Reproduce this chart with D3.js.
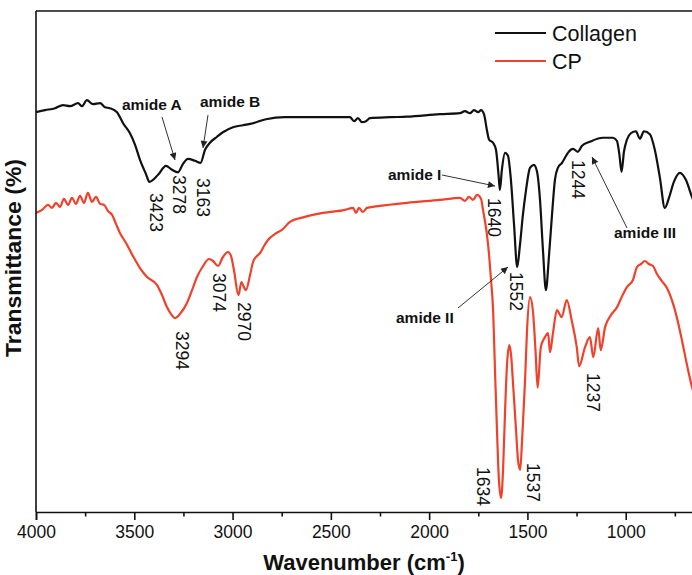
<!DOCTYPE html>
<html>
<head>
<meta charset="utf-8">
<script src="https://cdn.jsdelivr.net/npm/d3@7/dist/d3.min.js"></script>
<style>
  html, body { margin: 0; padding: 0; background: #fff; }
  svg { display: block; }
  text { font-family: "Liberation Sans", Arial, Helvetica, sans-serif; fill: #111; }
</style>
</head>
<body>
<svg id="chart" width="692" height="575"></svg>
<script>
// ---------------- DATA ----------------
const seriesNames = ["Collagen", "CP"];

const collagenWn = [4000,3954,3903,3863,3827,3786,3766,3741,3710,3674,3649,3624,3588,3557,3522,3496,3471,3440,3423,3379,3339,3308,3278,3252,3227,3191,3163,3140,3115,3079,3049,2998,2947,2896,2830,2733,2621,2504,2403,2382,2362,2342,2321,2301,2199,2113,1945,1843,1818,1792,1772,1751,1736,1721,1706,1695,1675,1660,1647,1640,1630,1614,1599,1584,1568,1552,1538,1523,1507,1487,1467,1451,1436,1421,1406,1390,1375,1360,1345,1324,1309,1294,1268,1244,1222,1182,1116,1065,1045,1032,1021,1009,994,974,948,928,907,877,852,826,801,780,755,724,694,663,622];
const collagenT  = [79.8,80.2,80.6,81.2,81.0,81.6,81.0,82.2,81.4,81.6,80.8,80.6,79.8,77.6,75.6,73.3,70.3,67.4,65.9,67.3,69.1,68.3,67.8,69.5,70.5,70.1,69.7,72.3,73.7,74.9,75.8,76.8,77.2,77.6,78.4,78.8,78.8,78.8,78.8,78.0,78.6,77.8,78.0,78.6,78.8,78.9,79.4,79.6,80.0,79.6,80.2,79.8,80.2,79.4,76.2,74.3,73.7,72.3,67.3,64.3,68.3,71.7,71.1,66.3,57.3,48.9,53.3,59.3,64.3,68.7,69.3,67.9,62.3,52.3,44.3,51.3,59.3,66.3,68.7,69.7,70.7,71.7,72.5,71.9,73.1,73.9,74.7,74.7,74.1,71.3,67.9,71.9,74.3,75.6,76.0,74.5,76.0,75.4,72.3,66.7,60.7,62.7,65.9,67.7,66.3,62.9,59.3];

const cpWn = [4000,3969,3939,3919,3898,3878,3858,3837,3817,3797,3776,3756,3736,3715,3695,3674,3654,3634,3613,3593,3573,3542,3507,3471,3435,3384,3359,3334,3313,3294,3268,3232,3206,3181,3150,3120,3099,3074,3049,3023,3008,2993,2970,2955,2947,2932,2911,2896,2876,2860,2840,2820,2784,2749,2708,2632,2540,2428,2387,2372,2357,2337,2316,2250,2113,1945,1843,1818,1797,1777,1756,1736,1726,1707,1695,1685,1674,1665,1655,1645,1634,1624,1614,1604,1592,1583,1572,1558,1548,1537,1527,1512,1502,1487,1471,1459,1448,1432,1411,1395,1385,1370,1350,1326,1300,1275,1249,1237,1207,1182,1165,1140,1127,1105,1075,1044,1018,994,963,943,922,902,882,861,841,816,790,765,739,714,689,663,622];
const cpT  = [59.7,60.3,61.3,60.7,61.7,60.9,62.5,61.3,62.7,61.5,63.1,61.7,63.7,61.9,62.9,61.5,61.3,60.1,59.3,57.5,55.7,53.7,51.1,48.7,46.9,45.3,43.3,40.9,39.5,38.7,39.5,41.7,44.3,46.9,49.1,50.5,50.1,49.1,50.9,51.9,51.1,48.3,43.3,45.9,45.3,44.3,47.3,49.9,51.1,51.7,53.1,54.3,55.5,56.3,57.9,58.9,59.7,60.3,60.7,59.7,60.7,59.9,60.7,61.1,61.7,62.3,62.7,62.1,62.9,62.3,63.3,62.5,60.3,55.7,51.3,46.3,39.7,28.3,16.4,6.4,2.8,8.4,19.8,29.3,33.3,31.3,24.9,16.4,10.4,8.4,14.4,26.3,36.3,42.9,39.7,32.3,24.8,32.9,34.9,35.7,31.9,35.7,40.3,38.9,42.3,38.3,32.9,29.1,32.9,34.9,30.9,36.7,32.3,36.9,39.3,40.9,43.1,44.9,46.3,48.9,49.5,50.1,49.5,49.1,47.5,46.1,44.7,42.3,38.7,34.3,29.5,25.0,20.4];

const xMajorTicks = [4000,3500,3000,2500,2000,1500,1000];
const xMinorTicks = [3750,3250,2750,2250,1750,1250,750];

const peakLabels = ["3423","3278","3163","3294","3074","2970","1640","1552","1244","1634","1537","1237"];
const peakSeries = ["Collagen","Collagen","Collagen","CP","CP","CP","Collagen","Collagen","Collagen","CP","CP","CP"];
const bandNames = ["amide A","amide B","amide I","amide II","amide III"];

// ---------------- LAYOUT ----------------
const W = 692, H = 575;
const plot = { left: 36, top: 11, bottom: 512 };
const xDomain = [4000, 600];
const pxPerUnit = 0.19657;
const x = d3.scaleLinear().domain(xDomain).range([plot.left, plot.left + (xDomain[0]-xDomain[1])*pxPerUnit]);
const y = d3.scaleLinear().domain([0, 100]).range([plot.bottom, plot.top]);
const colors = { "Collagen": "#111111", "CP": "#f0412b" };
const fontFam = '"Liberation Sans", Arial, Helvetica, sans-serif';

// positions of hand-placed annotation text (pixel layout)
const peakPos = [[150,193],[173,175],[197,178],[176,331],[213,273],[238,302],[488,198],[510,272],[572,160],[477,467],[527,463],[587,373]];
const bandTextPos = [[122,110],[200,107],[388,180],[396,323],[614,238]];
const bandArrows = [[[162,117],[175,160]],[[208,115],[203,148]],[[442,175],[495,186]],[[458,308],[508,267]],[[627,228],[592,157]]];

const svg = d3.select("#chart");

svg.append("defs").append("marker")
  .attr("id","arrowhead").attr("viewBox","0 0 10 10")
  .attr("refX",10).attr("refY",5)
  .attr("markerWidth",9).attr("markerHeight",7)
  .attr("markerUnits","userSpaceOnUse")
  .attr("orient","auto")
  .append("path").attr("d","M0,0 L10,5 L0,10 Z").attr("fill","#222");

svg.append("clipPath").attr("id","clip").append("rect")
  .attr("x",plot.left).attr("y",plot.top)
  .attr("width",x.range()[1]-plot.left).attr("height",plot.bottom-plot.top);

// series lines
const line = d3.line().x(d => x(d[0])).y(d => y(d[1])).curve(d3.curveMonotoneX);
const series = [
  { name: "Collagen", pts: d3.zip(collagenWn, collagenT) },
  { name: "CP", pts: d3.zip(cpWn, cpT) }
];
svg.append("g").attr("clip-path","url(#clip)")
  .selectAll("path").data(series).join("path")
  .attr("d", d => line(d.pts))
  .attr("fill","none")
  .attr("stroke", d => colors[d.name])
  .attr("stroke-width", 2.2)
  .attr("stroke-linejoin","round");

// frame (left, top)
svg.append("line").attr("x1",plot.left).attr("x2",plot.left).attr("y1",plot.top).attr("y2",plot.bottom)
  .attr("stroke","#111").attr("stroke-width",1.6);
svg.append("line").attr("x1",plot.left).attr("x2",W+20).attr("y1",plot.top).attr("y2",plot.top)
  .attr("stroke","#111").attr("stroke-width",1.6);

// x axis
const axisMajor = d3.axisBottom(x).tickValues(xMajorTicks).tickSize(8).tickPadding(6).tickFormat(d3.format("d"));
const gx = svg.append("g").attr("transform",`translate(0,${plot.bottom})`).call(axisMajor);
gx.select(".domain").attr("stroke","#111").attr("stroke-width",1.6);
gx.selectAll(".tick line").attr("stroke","#111").attr("stroke-width",1.6);
gx.selectAll(".tick text").attr("font-size",17.5).attr("font-family",fontFam).attr("fill","#111");
const gxm = svg.append("g").attr("transform",`translate(0,${plot.bottom})`)
  .call(d3.axisBottom(x).tickValues(xMinorTicks).tickSize(4.5).tickFormat(""));
gxm.select(".domain").remove();
gxm.selectAll(".tick line").attr("stroke","#111").attr("stroke-width",1.6);

// axis titles
const xt = svg.append("text").attr("x",364).attr("y",570).attr("text-anchor","middle")
  .attr("font-size",22).attr("font-weight","bold");
xt.append("tspan").text("Wavenumber (cm");
xt.append("tspan").attr("font-size",13).attr("dy",-9).text("-1");
xt.append("tspan").attr("dy",9).text(")");

svg.append("text").attr("transform","translate(21,258) rotate(-90)")
  .attr("text-anchor","middle").attr("font-size",22).attr("font-weight","bold")
  .attr("textLength",198).attr("lengthAdjust","spacingAndGlyphs")
  .text("Transmittance (%)");

// legend
const leg = svg.append("g");
seriesNames.forEach((n,i) => {
  const ly = 33 + i*28;
  leg.append("line").attr("x1",495).attr("x2",546).attr("y1",ly).attr("y2",ly)
    .attr("stroke", colors[n]).attr("stroke-width",2.2);
  leg.append("text").attr("x",552).attr("y",ly).attr("dy","0.36em")
    .attr("font-size",21.5).text(n);
});

// peak labels (rotated)
svg.append("g").selectAll("text").data(peakLabels).join("text")
  .attr("transform",(d,i) => `translate(${peakPos[i][0]},${peakPos[i][1]}) rotate(90)`)
  .attr("font-size",17.5).attr("text-anchor","start")
  .text(d => d);

// band annotations
const ba = svg.append("g");
bandNames.forEach((n,i) => {
  ba.append("line")
    .attr("x1",bandArrows[i][0][0]).attr("y1",bandArrows[i][0][1])
    .attr("x2",bandArrows[i][1][0]).attr("y2",bandArrows[i][1][1])
    .attr("stroke","#333").attr("stroke-width",1)
    .attr("marker-end","url(#arrowhead)");
  ba.append("text").attr("x",bandTextPos[i][0]).attr("y",bandTextPos[i][1])
    .attr("font-size",15.5).attr("font-weight","bold").text(n);
});
</script>
</body>
</html>
